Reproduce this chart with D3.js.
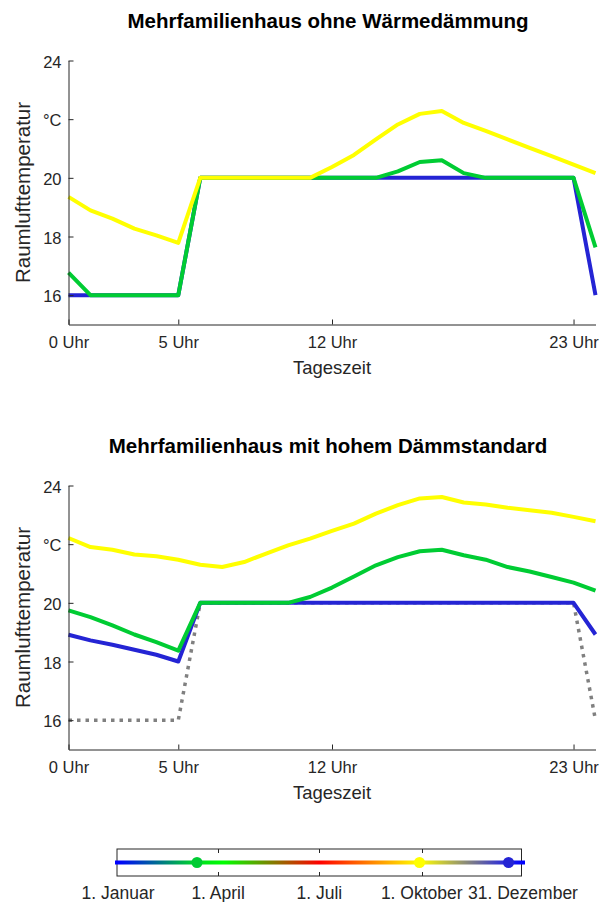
<!DOCTYPE html>
<html><head><meta charset="utf-8">
<script src="https://cdn.jsdelivr.net/npm/d3@7"></script>
<style>
body{margin:0;background:#fff}
svg{display:block}
text{font-family:"Liberation Sans",Arial,Helvetica,sans-serif;fill:#262626}
</style>
</head><body>
<svg id="c" width="603" height="902"></svg>
<script>
// ---------- data ----------
const hours = [0,1,2,3,4,5,6,7,8,9,10,11,12,13,14,15,16,17,18,19,20,21,22,23,24];
const xTicks = [0,5,12,23];
const xTickLabels = ["0 Uhr","5 Uhr","12 Uhr","23 Uhr"];
const yTicks = [16,18,20,22,24];
const yTickLabels = ["16","18","20","°C","24"];
const yDomain = [15,24];
const xDomain = [0,24];
const titleTop = "Mehrfamilienhaus ohne Wärmedämmung";
const titleBottom = "Mehrfamilienhaus mit hohem Dämmstandard";
const xLabel = "Tageszeit";
const yLabel = "Raumlufttemperatur";

// top panel (ohne Wärmedämmung)
const topWinter = [16,16,16,16,16,16,20,20,20,20,20,20,20,20,20,20,20,20,20,20,20,20,20,20,16];
const topSpring = [16.77,16,16,16,16,16,20,20,20,20,20,20,20,20,20,20.22,20.54,20.6,20.16,20,20,20,20,20,17.63];
const topAutumn = [19.35,18.89,18.61,18.27,18.04,17.78,20,20,20,20,20,20,20.37,20.78,21.31,21.82,22.18,22.28,21.87,21.6,21.31,21.02,20.74,20.45,20.16];

// bottom panel (hoher Dämmstandard)
const bottomSetpoint = [16,16,16,16,16,16,20,20,20,20,20,20,20,20,20,20,20,20,20,20,20,20,20,20,16];
const bottomWinter = [18.91,18.72,18.57,18.4,18.23,18.0,20,20,20,20,20,20,20,20,20,20,20,20,20,20,20,20,20,20,18.92];
const bottomSpring = [19.74,19.51,19.23,18.92,18.66,18.37,20,20,20,20,20,20.2,20.52,20.9,21.28,21.56,21.76,21.81,21.62,21.47,21.22,21.07,20.88,20.69,20.42];
const bottomAutumn = [22.21,21.9,21.81,21.65,21.59,21.47,21.3,21.22,21.39,21.68,21.96,22.19,22.45,22.7,23.04,23.33,23.56,23.61,23.42,23.35,23.24,23.16,23.07,22.93,22.78];

// legend (colour bar of the year)
const legendTickDates = ["2023-01-01","2023-04-01","2023-07-01","2023-10-01","2023-12-31"];
const legendTickLabels = ["1. Januar","1. April","1. Juli","1. Oktober","31. Dezember"];
const gradientDates = ["2023-01-01","2023-03-13","2023-04-06","2023-07-01","2023-09-29","2023-12-18","2023-12-31"];
const gradientColors = ["#0000ff","#00dd22","#00ff00","#ff0000","#ffff00","#2020e6","#0000ff"];
const markerDates = ["2023-03-13","2023-09-29","2023-12-18"];
const markerColors = ["#00cc33","#ffff00","#2424d4"];

// ---------- styles ----------
const COL = {blue:"#2424d4", green:"#00cc33", yellow:"#ffff00", gray:"#808080", axis:"#262626"};

const svg = d3.select("#c");
const x = d3.scaleLinear().domain(xDomain).range([68.5,595.5]);

const panels = [
  {title:titleTop, top:60.5, titleY:28, series:[
    {v:topWinter, c:COL.blue},{v:topSpring, c:COL.green},{v:topAutumn, c:COL.yellow}]},
  {title:titleBottom, top:485.5, titleY:453, series:[
    {v:bottomSetpoint, c:COL.gray, dash:true},{v:bottomWinter, c:COL.blue},
    {v:bottomSpring, c:COL.green},{v:bottomAutumn, c:COL.yellow}]}
];
const panelH = 264;

panels.forEach(p=>{
  const bottom = p.top + panelH;
  const y = d3.scaleLinear().domain(yDomain).range([bottom, p.top]);
  const g = svg.append("g");

  // title
  g.append("text").attr("x",328).attr("y",p.titleY).attr("text-anchor","middle")
    .style("font-size","20.5px").style("font-weight","bold").style("fill","#000").text(p.title);

  // lines
  const line = d3.line().x((d,i)=>x(hours[i])).y(d=>y(d));
  p.series.forEach(s=>{
    g.append("path").attr("d",line(s.v)).attr("fill","none").attr("stroke",s.c)
      .attr("stroke-width", s.dash?3.5:4)
      .attr("stroke-dasharray", s.dash?"3.5,5":null)
      .attr("stroke-linejoin","round");
  });

  // axes
  const ax = d3.axisLeft(y).tickValues(yTicks).tickFormat((d,i)=>yTickLabels[i])
    .tickSizeInner(-5).tickSizeOuter(0).tickPadding(7);
  const gy = g.append("g").attr("transform",`translate(${x(0)},0)`).call(ax);
  const bx = d3.axisBottom(x).tickValues(xTicks).tickFormat((d,i)=>xTickLabels[i])
    .tickSizeInner(-5).tickSizeOuter(0).tickPadding(12);
  const gx = g.append("g").attr("transform",`translate(0,${bottom})`).call(bx);
  [gy,gx].forEach(a=>{
    a.select(".domain").attr("stroke",COL.axis);
    a.selectAll(".tick line").attr("stroke",COL.axis);
    a.selectAll(".tick text").style("font-size","16.5px").style("font-family",'"Liberation Sans",Arial,sans-serif').attr("fill",COL.axis);
  });
  gy.selectAll(".tick text").attr("dy","0.4em");

  // labels
  g.append("text").attr("x",(x(0)+x(24))/2).attr("y",bottom+49.5).attr("text-anchor","middle")
    .style("font-size","18.5px").text(xLabel);
  g.append("text").attr("transform",`translate(30,${(p.top+bottom)/2}) rotate(-90)`)
    .attr("text-anchor","middle").style("font-size","20.5px").text(yLabel);
});

// ---------- legend colour bar ----------
const parse = d3.timeParse("%Y-%m-%d");
const lx = d3.scaleTime().domain([parse("2023-01-01"),parse("2023-12-31")]).range([118,523]);
const lineX0 = 115, lineX1 = 525, boxX0 = 117, boxX1 = 521.5, boxY0 = 849, boxY1 = 876, lineY = 862.5;

const defs = svg.append("defs");
const grad = defs.append("linearGradient").attr("id","yearGrad")
  .attr("gradientUnits","userSpaceOnUse").attr("x1",lineX0).attr("x2",lineX1).attr("y1",0).attr("y2",0);
gradientDates.forEach((d,i)=>{
  const off = Math.max(0,Math.min(1,(lx(parse(d))-lineX0)/(lineX1-lineX0)));
  grad.append("stop").attr("offset",off).attr("stop-color",gradientColors[i]);
});

const lg = svg.append("g");
lg.append("rect").attr("x",boxX0).attr("y",boxY0).attr("width",boxX1-boxX0).attr("height",boxY1-boxY0)
  .attr("fill","#fff").attr("stroke",COL.axis).attr("stroke-width",1);
legendTickDates.forEach((d,i)=>{
  const tx = Math.round(lx(parse(d)))+0.5;
  if(i>0 && i<legendTickDates.length-1){
    lg.append("line").attr("x1",tx).attr("x2",tx).attr("y1",boxY0).attr("y2",boxY0+4).attr("stroke",COL.axis);
    lg.append("line").attr("x1",tx).attr("x2",tx).attr("y1",boxY1-4).attr("y2",boxY1).attr("stroke",COL.axis);
  }
  lg.append("text").attr("x",lx(parse(d))).attr("y",899).attr("text-anchor","middle")
    .style("font-size","17.5px").text(legendTickLabels[i]);
});
lg.append("line").attr("x1",lineX0).attr("x2",lineX1).attr("y1",lineY).attr("y2",lineY)
  .attr("stroke","url(#yearGrad)").attr("stroke-width",4);
markerDates.forEach((d,i)=>{
  lg.append("circle").attr("cx",lx(parse(d))).attr("cy",lineY).attr("r",5.5).attr("fill",markerColors[i]);
});
</script>
</body></html>
